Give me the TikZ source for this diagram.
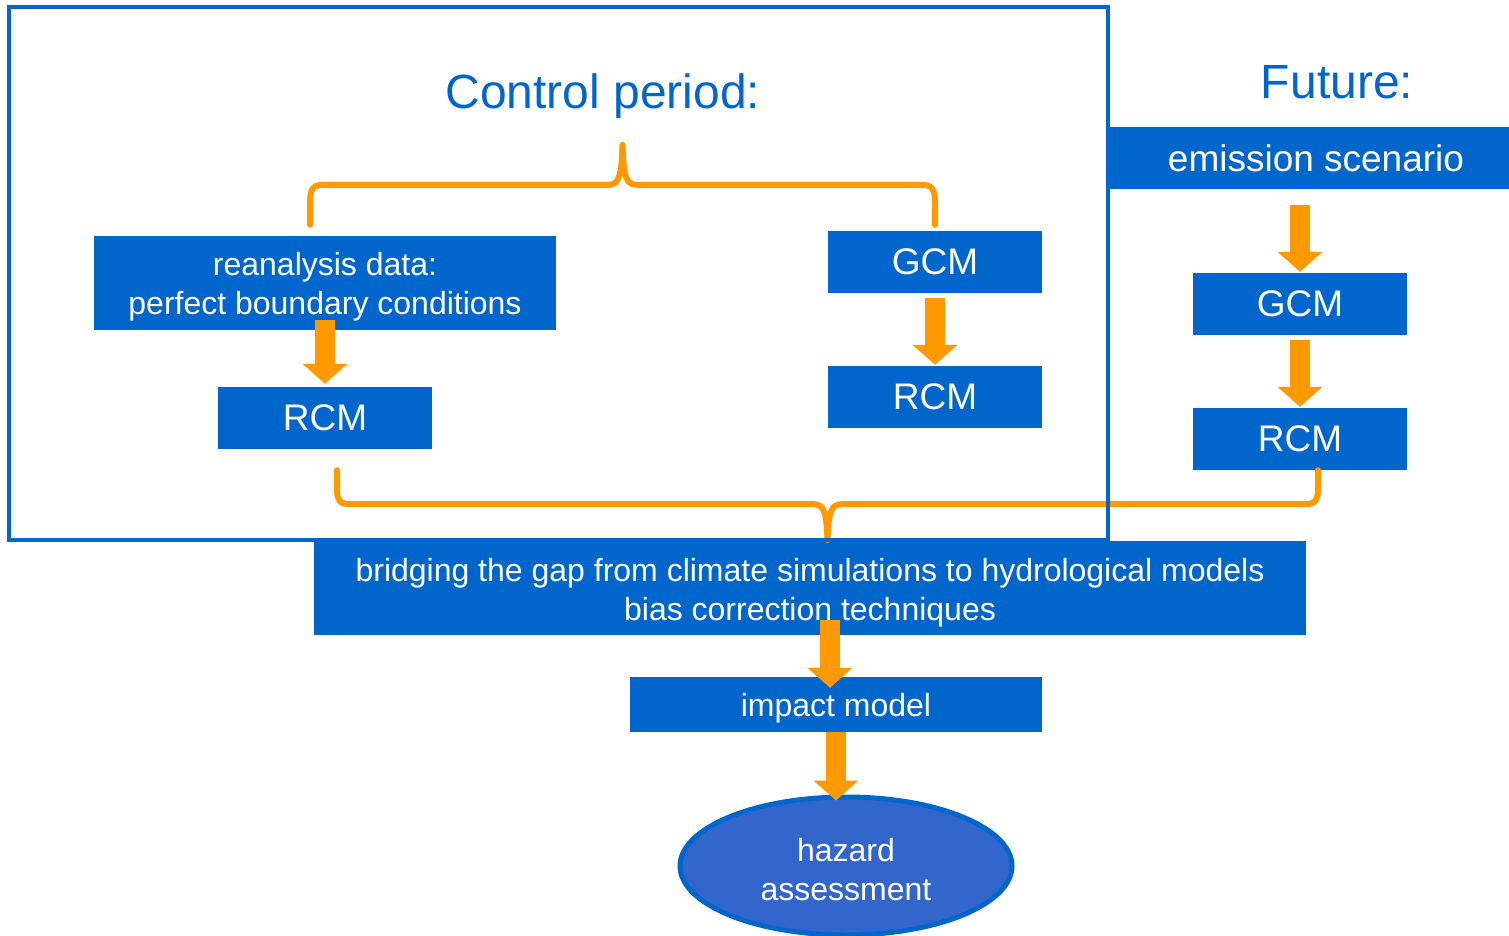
\documentclass[tikz,border=0pt]{standalone}
\usepackage{fontspec}
\setmainfont{Liberation Sans}
\usetikzlibrary{arrows.meta,shapes.geometric,calc}
\definecolor{boxblue}{HTML}{0066CC}
\definecolor{ellblue}{HTML}{3366CC}
\definecolor{arrorange}{HTML}{FF9900}
\newcommand\mystrut[1]{\rule{0pt}{#1}}
\tikzset{
  box/.style={fill=boxblue, text=white, inner sep=0pt, align=center,
    font=\fontsize{37}{44}\selectfont},
  smallbox/.style={box, font=\fontsize{32}{39}\selectfont},
  titletext/.style={text=boxblue, inner sep=0pt, font=\fontsize{48}{56}\selectfont},
  ellbox/.style={ellipse, fill=ellblue, draw=boxblue, line width=5pt, text=white,
    inner sep=0pt, align=center, font=\fontsize{32}{39}\selectfont},
  barrow/.style={draw=arrorange, line width=20pt, -{Triangle[length=20pt,width=44pt]}},
  brace/.style={draw=arrorange, line width=6pt, line cap=round, line join=round},
  frame/.style={draw=boxblue, line width=4pt}
}
\begin{document}
\begin{tikzpicture}[x=1pt,y=-1pt]
\clip (0,0) rectangle (1509,936);
\fill[white] (0,0) rectangle (1509,936);

% titles
\node[titletext, anchor=base] (ctitle) at (603,109) {Control period:};
\node[titletext, anchor=base] (ftitle) at (1337,99) {Future:};

% boxes
\node[smallbox, minimum width=462pt, minimum height=94pt] (rean) at (325,283) {\mystrut{31.5pt}reanalysis data:\\perfect boundary conditions};
\node[box, minimum width=214pt, minimum height=62pt] (rcmL) at (325,418) {RCM};
\node[box, minimum width=214pt, minimum height=62pt] (gcmC) at (935,262) {GCM};
\node[box, minimum width=214pt, minimum height=62pt] (rcmC) at (935,397) {RCM};
\node[box, minimum width=412pt, minimum height=62pt] (emis) at (1316,158) {emission scenario};
\node[box, minimum width=214pt, minimum height=62pt] (gcmF) at (1300,304) {GCM};
\node[box, minimum width=214pt, minimum height=62pt] (rcmF) at (1300,439) {RCM};
\node[smallbox, minimum width=992pt, minimum height=94pt] (bridge) at (810,588) {\mystrut{32.5pt}bridging the gap from climate simulations to hydrological models\\bias correction techniques};
\node[smallbox, minimum width=412pt, minimum height=55pt] (impact) at (836,704.5) {\mystrut{31.5pt}impact model};
\node[ellbox, minimum width=332pt, minimum height=138pt] (hazard) at (846,866) {\mystrut{29.5pt}hazard\\assessment};

% top brace
\coordinate (tl) at ($(rean.north)+(-15,-11)$);
\coordinate (tr) at ($(gcmC.north)+(0,-6)$);
\coordinate (tc) at ($($(tl)!0.5!(tr)$)+(0,-80)$);
\draw[brace] (tl) -- ($(tl)+(0,-22)$)
  .. controls ($(tl)+(0,-36)$) and ($(tl)+(3,-40)$) .. ($(tl)+(14,-40)$)
  -- ($(tc)+(-14,40)$)
  .. controls ($(tc)+(-3,40)$) and ($(tc)+(-1,30)$) .. (tc)
  .. controls ($(tc)+(1,30)$) and ($(tc)+(3,40)$) .. ($(tc)+(14,40)$)
  -- ($(tr)+(-14,-40)$)
  .. controls ($(tr)+(-3,-40)$) and ($(tr)+(0,-36)$) .. ($(tr)+(0,-22)$)
  -- (tr);

% bottom brace
\coordinate (bl) at ($(rcmL.south)+(12,21)$);
\coordinate (br) at ($(rcmF.south)+(18,0)$);
\coordinate (bc) at ($($(bl)!0.5!(br)$)+(0,70)$);
\draw[brace] (bl) -- ($(bl)+(0,18)$)
  .. controls ($(bl)+(0,31)$) and ($(bl)+(3,34)$) .. ($(bl)+(14,34)$)
  -- ($(bc)+(-14,-36)$)
  .. controls ($(bc)+(-3,-36)$) and ($(bc)+(-1,-27)$) .. (bc)
  .. controls ($(bc)+(1,-27)$) and ($(bc)+(3,-36)$) .. ($(bc)+(14,-36)$)
  -- ($(br)+(-14,34)$)
  .. controls ($(br)+(-3,34)$) and ($(br)+(0,31)$) .. ($(br)+(0,18)$)
  -- (br);

% control period frame
\draw[frame] (9,7) rectangle (1108,540);

% arrows
\draw[barrow] ($(rean.south)+(0,-10)$) -- ($(rcmL.north)+(0,-3)$);
\draw[barrow] ($(gcmC.south)+(0,5)$) -- ($(rcmC.north)+(0,-1)$);
\draw[barrow] ($(gcmF.north |- emis.south)+(0,16)$) -- ($(gcmF.north)+(0,-1)$);
\draw[barrow] ($(gcmF.south)+(0,5)$) -- ($(rcmF.north)+(0,-1)$);
\draw[barrow] ($(impact.north |- bridge.south)+(-6,-15)$) -- ($(impact.north)+(-6,11)$);
\draw[barrow] (impact.south) -- ($(impact.south |- hazard.north)+(0,6)$);
\end{tikzpicture}
\end{document}
